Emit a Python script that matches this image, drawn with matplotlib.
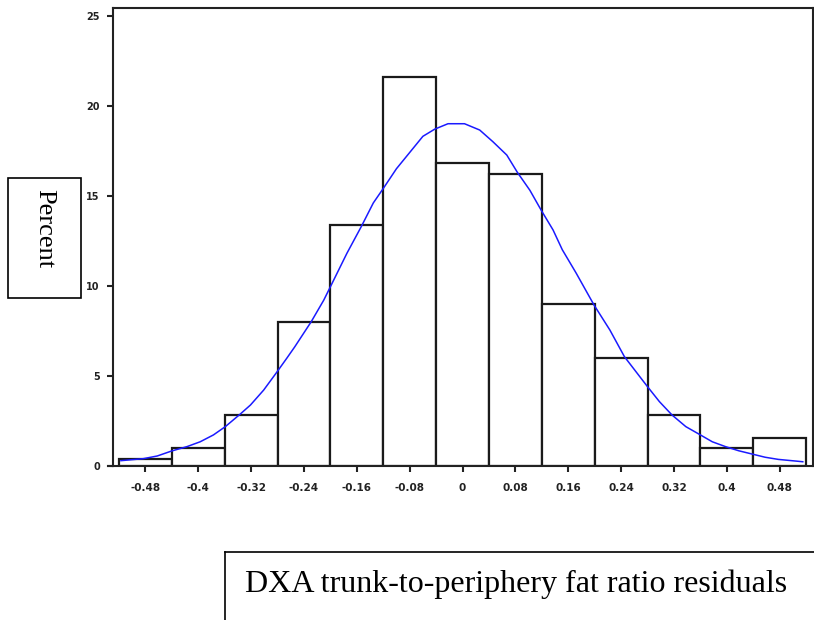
import matplotlib
matplotlib.use("Agg")
import matplotlib.pyplot as plt
from matplotlib.patches import Rectangle
from matplotlib.lines import Line2D

# ---- data ----
bin_centers = [-0.48, -0.40, -0.32, -0.24, -0.16, -0.08, 0.0, 0.08, 0.16, 0.24, 0.32, 0.40, 0.48]
bin_percent = [0.35, 1.0, 2.8, 8.0, 13.35, 21.6, 16.8, 16.2, 9.0, 6.0, 2.8, 1.0, 1.55]
bin_width = 0.08

curve_x = [-0.517, -0.505, -0.483, -0.462, -0.44, -0.417, -0.397, -0.377, -0.359, -0.337,
           -0.321, -0.301, -0.281, -0.266, -0.254, -0.229, -0.21, -0.2, -0.175, -0.153,
           -0.135, -0.12, -0.1, -0.08, -0.06, -0.042, -0.022, 0.003, 0.026, 0.046,
           0.067, 0.083, 0.102, 0.119, 0.137, 0.151, 0.172, 0.199, 0.223, 0.245,
           0.263, 0.28, 0.298, 0.317, 0.338, 0.36, 0.378, 0.398, 0.418, 0.438,
           0.458, 0.478, 0.498, 0.515]
curve_y = [0.28, 0.32, 0.39, 0.54, 0.82, 1.06, 1.33, 1.71, 2.17, 2.85,
           3.37, 4.2, 5.2, 5.97, 6.6, 8.0, 9.2, 9.94, 11.8, 13.3,
           14.6, 15.4, 16.5, 17.4, 18.3, 18.7, 19.0, 19.0, 18.65, 18.0,
           17.26, 16.3, 15.3, 14.2, 13.1, 12.0, 10.7, 8.93, 7.54, 6.06,
           5.2, 4.39, 3.56, 2.82, 2.17, 1.71, 1.33, 1.06, 0.83, 0.65,
           0.47, 0.35, 0.28, 0.22]

xtick_labels = ["-0.48", "-0.4", "-0.32", "-0.24", "-0.16", "-0.08", "0",
                "0.08", "0.16", "0.24", "0.32", "0.4", "0.48"]
yticks = [0, 5, 10, 15, 20, 25]
ylabel_text = "Percent"
xlabel_text = "DXA trunk-to-periphery fat ratio residuals"

W, H = 814, 620
fig = plt.figure(figsize=(W / 100, H / 100), dpi=100)

def fx(px):
    return px / W

def fy(py):
    return 1 - py / H

ax = fig.add_axes([fx(113), fy(465.7), fx(812.7) - fx(113), fy(8) - fy(465.7)])

ax.bar(bin_centers, bin_percent, width=bin_width, facecolor="white",
       edgecolor="#1a1a1a", linewidth=1.6, zorder=2)
ax.plot(curve_x, curve_y, color="#1a1aff", linewidth=1.1, zorder=3)

ax.set_xlim(-0.529, 0.530)
ax.set_ylim(0, 25.43)
ax.set_xticks(bin_centers)
ax.set_xticklabels(xtick_labels)
ax.set_yticks(yticks)
ax.set_yticklabels([str(v) for v in yticks])

for s in ax.spines.values():
    s.set_linewidth(1.5)
    s.set_color("#222222")

ax.tick_params(axis="x", length=4.5, width=1.5, color="#222222", pad=8,
               labelsize=7.5)
ax.tick_params(axis="y", length=4.5, width=1.5, color="#222222", pad=5,
               labelsize=7)
for lab in ax.get_xticklabels() + ax.get_yticklabels():
    lab.set_fontweight("bold")
    lab.set_color("#222222")

# small extension of baseline to the left of the y axis
ax.add_line(Line2D([-0.007, 0], [0, 0], transform=ax.transAxes, color="#222222",
                   linewidth=1.5, clip_on=False))

# "Percent" box (left)
fig.add_artist(Rectangle((fx(8), fy(298)), fx(81) - fx(8), fy(178) - fy(298),
                         transform=fig.transFigure, fill=False, edgecolor="black",
                         linewidth=1.2))
fig.text(fx(44.5), fy(229), ylabel_text, rotation=-90, ha="center", va="center",
         family="Liberation Serif", fontsize=19)

# x-label box (bottom, running off the figure edge)
fig.add_artist(Line2D([fx(225), fx(225)], [fy(551.7), 0], transform=fig.transFigure,
                      color="black", linewidth=1.2))
fig.add_artist(Line2D([fx(225), 1], [fy(551.7), fy(551.7)], transform=fig.transFigure,
                      color="black", linewidth=1.2))
fig.text(fx(245), fy(591.7), xlabel_text, ha="left", va="baseline",
         family="Liberation Serif", fontsize=23)

fig.savefig("out.png", dpi=100)
